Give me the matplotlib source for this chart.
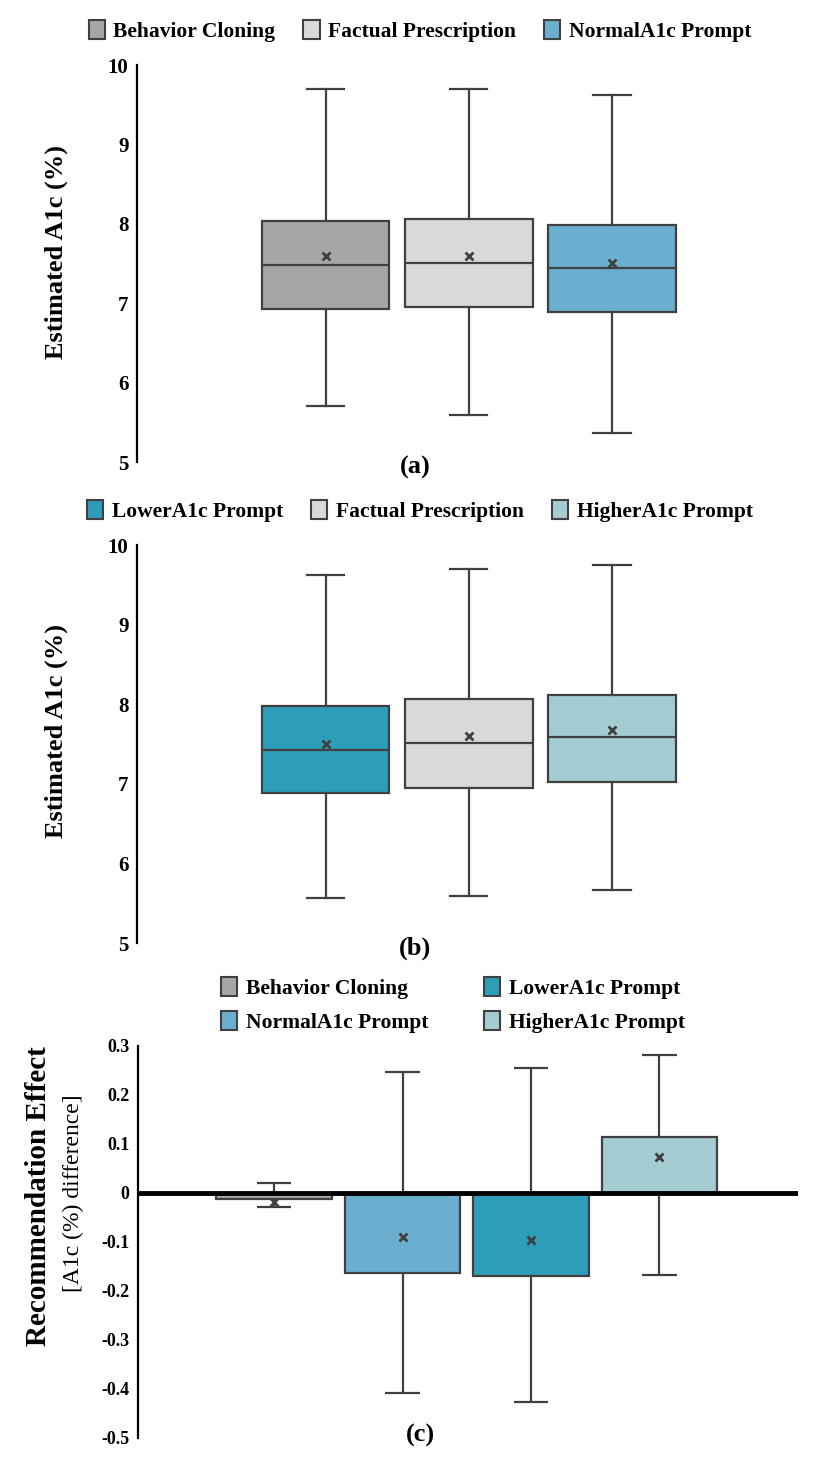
import matplotlib
matplotlib.use('Agg')
import matplotlib.pyplot as plt
from matplotlib.patches import Patch

plt.rcParams['font.family'] = ['Liberation Serif', 'DejaVu Serif']

EDGE = '#404040'
COLORS = {
	'Behavior Cloning': '#A6A6A6',
	'Factual Prescription': '#D9D9D9',
	'NormalA1c Prompt': '#6BAED0',
	'LowerA1c Prompt': '#2E9DB8',
	'HigherA1c Prompt': '#A4CCD2',
}

# panel (a)
A_NAMES = ['Behavior Cloning', 'Factual Prescription', 'NormalA1c Prompt']
A_WLO = [5.71, 5.59, 5.36]
A_Q1 = [6.93, 6.95, 6.89]
A_MED = [7.48, 7.51, 7.44]
A_Q3 = [8.04, 8.06, 7.99]
A_WHI = [9.70, 9.70, 9.62]
A_MEAN = [7.59, 7.60, 7.51]

# panel (b)
B_NAMES = ['LowerA1c Prompt', 'Factual Prescription', 'HigherA1c Prompt']
B_WLO = [5.57, 5.59, 5.67]
B_Q1 = [6.88, 6.95, 7.02]
B_MED = [7.43, 7.51, 7.59]
B_Q3 = [7.98, 8.06, 8.12]
B_WHI = [9.62, 9.70, 9.75]
B_MEAN = [7.50, 7.60, 7.67]

# panel (c)
C_NAMES = ['Behavior Cloning', 'NormalA1c Prompt', 'LowerA1c Prompt', 'HigherA1c Prompt']
C_BAR = [-0.012, -0.163, -0.169, 0.114]
C_HI = [0.020, 0.247, 0.254, 0.282]
C_LO = [-0.029, -0.409, -0.426, -0.167]
C_MEAN = [-0.018, -0.090, -0.095, 0.073]

A_TICKS = [5, 6, 7, 8, 9, 10]
C_TICKS = [-0.5, -0.4, -0.3, -0.2, -0.1, 0, 0.1, 0.2, 0.3]
C_TICKLABELS = ['-0.5', '-0.4', '-0.3', '-0.2', '-0.1', '0', '0.1', '0.2', '0.3']


def style_axis(ax):
	for s in ['top', 'right', 'bottom']:
		ax.spines[s].set_visible(False)
	ax.spines['left'].set_linewidth(1.6)
	ax.spines['left'].set_color('black')
	ax.set_xticks([])
	ax.tick_params(axis='y', length=0, pad=6)
	for t in ax.get_yticklabels():
		t.set_fontweight('bold')


def box_panel(ax, names, wlo, q1, med, q3, whi, mean):
	stats = []
	for i in range(len(names)):
		stats.append(dict(whislo=wlo[i], q1=q1[i], med=med[i], q3=q3[i],
			whishi=whi[i], mean=mean[i], fliers=[]))
	lw = 1.6
	bp = ax.bxp(stats, positions=range(len(names)), widths=0.89, patch_artist=True,
		showmeans=True, showfliers=False,
		boxprops=dict(edgecolor=EDGE, linewidth=lw),
		medianprops=dict(color=EDGE, linewidth=lw),
		whiskerprops=dict(color=EDGE, linewidth=lw),
		capprops=dict(color=EDGE, linewidth=lw),
		meanprops=dict(marker='x', markeredgecolor=EDGE, markersize=6, markeredgewidth=2))
	for patch, n in zip(bp['boxes'], names):
		patch.set_facecolor(COLORS[n])
	for cap in bp['caps']:
		x = cap.get_xdata()
		c = (x[0] + x[1]) / 2
		cap.set_xdata([c - 0.13, c + 0.13])
	ax.set_ylim(5, 10)
	ax.set_xlim(-1.32, 3.30)
	ax.set_yticks(A_TICKS)
	ax.set_yticklabels([str(t) for t in A_TICKS], fontsize=15)
	style_axis(ax)


def legend_handles(names):
	return [Patch(facecolor=COLORS[n], edgecolor=EDGE, linewidth=1.5, label=n) for n in names]


fig = plt.figure(figsize=(8.3, 14.58), dpi=100)

ax_a = fig.add_axes([0.165, 0.6831, 0.7964, 0.2723])
box_panel(ax_a, A_NAMES, A_WLO, A_Q1, A_MED, A_Q3, A_WHI, A_MEAN)
ax_b = fig.add_axes([0.165, 0.3532, 0.7964, 0.2730])
box_panel(ax_b, B_NAMES, B_WLO, B_Q1, B_MED, B_Q3, B_WHI, B_MEAN)

leg_kw = dict(loc='center', frameon=False, handlelength=0.75, handleheight=1.0,
	handletextpad=0.4, prop=dict(family='Liberation Serif', weight='bold', size=15.5))
fig.legend(handles=legend_handles(A_NAMES), ncol=3, columnspacing=1.3,
	bbox_to_anchor=(0.506, 0.9787), **leg_kw)
fig.legend(handles=legend_handles(B_NAMES), ncol=3, columnspacing=1.3,
	bbox_to_anchor=(0.506, 0.6495), **leg_kw)

# panel (c)
ax_c = fig.add_axes([0.1663, 0.01372, 0.7952, 0.2689])
pos = list(range(len(C_NAMES)))
ax_c.vlines(pos, C_LO, C_HI, color=EDGE, linewidth=1.6, zorder=1)
ax_c.hlines(C_HI, [p - 0.135 for p in pos], [p + 0.135 for p in pos], color=EDGE, linewidth=1.6, zorder=1)
ax_c.hlines(C_LO, [p - 0.135 for p in pos], [p + 0.135 for p in pos], color=EDGE, linewidth=1.6, zorder=1)
ax_c.bar(pos, C_BAR, width=0.9, color=[COLORS[n] for n in C_NAMES],
	edgecolor=EDGE, linewidth=1.6, zorder=2)
ax_c.axhline(0, color='black', linewidth=3.5, zorder=3)
ax_c.plot(pos, C_MEAN, linestyle='none', marker='x', markeredgecolor=EDGE,
	markersize=6, markeredgewidth=2, zorder=4)
ax_c.set_ylim(-0.5, 0.3)
ax_c.set_xlim(-1.06, 4.08)
ax_c.set_yticks(C_TICKS)
ax_c.set_yticklabels(C_TICKLABELS, fontsize=13)
style_axis(ax_c)

fig.legend(handles=legend_handles(C_NAMES), ncol=2, columnspacing=2.6, labelspacing=0.55,
	bbox_to_anchor=(0.546, 0.3107), **leg_kw)

# labels
fig.text(56 / 830, 1 - 252 / 1458, 'Estimated A1c (%)', rotation=90, ha='center', va='center',
	fontsize=19, fontweight='bold')
fig.text(56 / 830, 1 - 731 / 1458, 'Estimated A1c (%)', rotation=90, ha='center', va='center',
	fontsize=19, fontweight='bold')
fig.text(39 / 830, 1 - 1196 / 1458, 'Recommendation Effect', rotation=90, ha='center', va='center',
	fontsize=21, fontweight='bold')
fig.text(73 / 830, 1 - 1193 / 1458, '[A1c (%) difference]', rotation=90, ha='center', va='center',
	fontsize=17)
fig.text(415 / 830, 1 - 467 / 1458, '(a)', ha='center', va='center', fontsize=19, fontweight='bold')
fig.text(415 / 830, 1 - 948 / 1458, '(b)', ha='center', va='center', fontsize=19, fontweight='bold')
fig.text(420 / 830, 1 - 1435 / 1458, '(c)', ha='center', va='center', fontsize=19, fontweight='bold')

fig.savefig('out.png', dpi=100)
